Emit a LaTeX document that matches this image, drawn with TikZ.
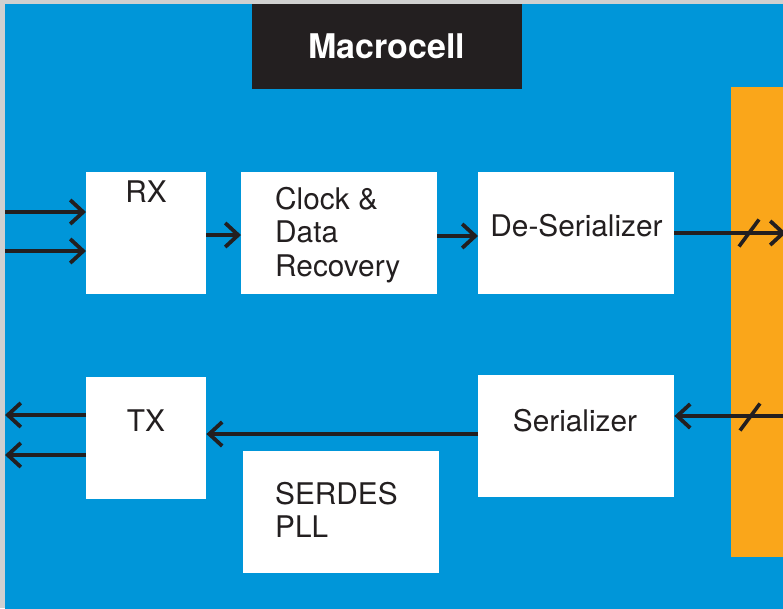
\documentclass[tikz,border=0pt]{standalone}
\usepackage{fontspec}
\setmainfont{TeX Gyre Heros}
\usetikzlibrary{arrows.meta,calc}

\definecolor{cellblue}{RGB}{0,150,217}
\definecolor{busorange}{RGB}{250,166,26}
\definecolor{ink}{RGB}{35,31,32}
\definecolor{frame}{RGB}{208,208,208}

\begin{document}
\begin{tikzpicture}[x=1pt,y=-1pt,
  block/.style={fill=white, draw=none, inner sep=0pt, anchor=north west},
  lbl/.style={font=\fontsize{29.8}{33.5}\selectfont, text=ink, inner sep=0pt, align=left},
  title/.style={font=\fontsize{34}{36}\selectfont\bfseries, text=white, inner sep=0pt},
  conn/.style={draw=ink, line width=3.8pt, -{Straight Barb[length=13pt,width=24pt]}},
  slash/.style={draw=ink, line width=3.6pt}
]
% page and clipping
\useasboundingbox (0,0) rectangle (783,608);
\clip (0,0) rectangle (783,608);
\fill[frame] (0,0) rectangle (783,608);
\fill[cellblue] (5,4) rectangle (790,615);

% parallel bus on the right
\fill[busorange] (731,87) rectangle (790,557);

% title tab
\node[block, fill=ink, minimum width=270pt, minimum height=85pt] (tab) at (252,4) {};
\node[title, anchor=base] (tabtxt) at (387,58) {Macrocell};

% blocks
\node[block, minimum width=120pt, minimum height=122pt] (rx)  at (86,172)  {};
\node[block, minimum width=196pt, minimum height=122pt] (cdr) at (241,172) {};
\node[block, minimum width=196pt, minimum height=122pt] (des) at (478,172) {};
\node[block, minimum width=120pt, minimum height=122pt] (tx)  at (86,377)  {};
\node[block, minimum width=196pt, minimum height=122pt] (ser) at (478,375) {};
\node[block, minimum width=196pt, minimum height=122pt] (pll) at (243,451) {};

% block labels
\node[lbl, anchor=base] (rxtxt) at (146,202) {RX};
\node[lbl, anchor=north west] (cdrtxt) at (275,186.8) {Clock \&\\Data\\Recovery};
\node[lbl, anchor=base] (destxt) at (576.5,236.7) {De-Serializer};
\node[lbl, anchor=base] (txtxt) at (146,431) {TX};
\node[lbl, anchor=base] (sertxt) at (575,431) {Serializer};
\node[lbl, anchor=north west] (plltxt) at (275,481.8) {SERDES\\PLL};

% free ends of the connectors
\coordinate (rxin1) at (5,212);
\coordinate (rxin2) at (5,251);
\coordinate (txout1) at (5,415);
\coordinate (txout2) at (5,455);
\coordinate (busout) at (786,233);
\coordinate (busin) at (790,416);
\coordinate (slashA) at (749,233);
\coordinate (slashB) at (750,417);

% receive path
\draw[conn] (rxin1) -- (rxin1 -| rx.west);
\draw[conn] (rxin2) -- (rxin2 -| rx.west);
\draw[conn] (rx.east |- 0,235) -- (cdr.west |- 0,235);
\draw[conn] (cdr.east |- 0,236) -- (des.west |- 0,236);
\draw[conn] (des.east |- busout) -- (busout);

% transmit path
\draw[conn] (busin) -- (busin -| ser.east);
\draw[conn] (ser.west |- 0,434) -- (tx.east |- 0,434);
\draw[conn] (tx.west |- txout1) -- (txout1);
\draw[conn] (tx.west |- txout2) -- (txout2);

% bus width marks
\draw[slash] ($(slashA)+(-10,13.5)$) -- ($(slashA)+(10,-13.5)$);
\draw[slash] ($(slashB)+(-10,13.5)$) -- ($(slashB)+(10,-13.5)$);
\end{tikzpicture}
\end{document}
